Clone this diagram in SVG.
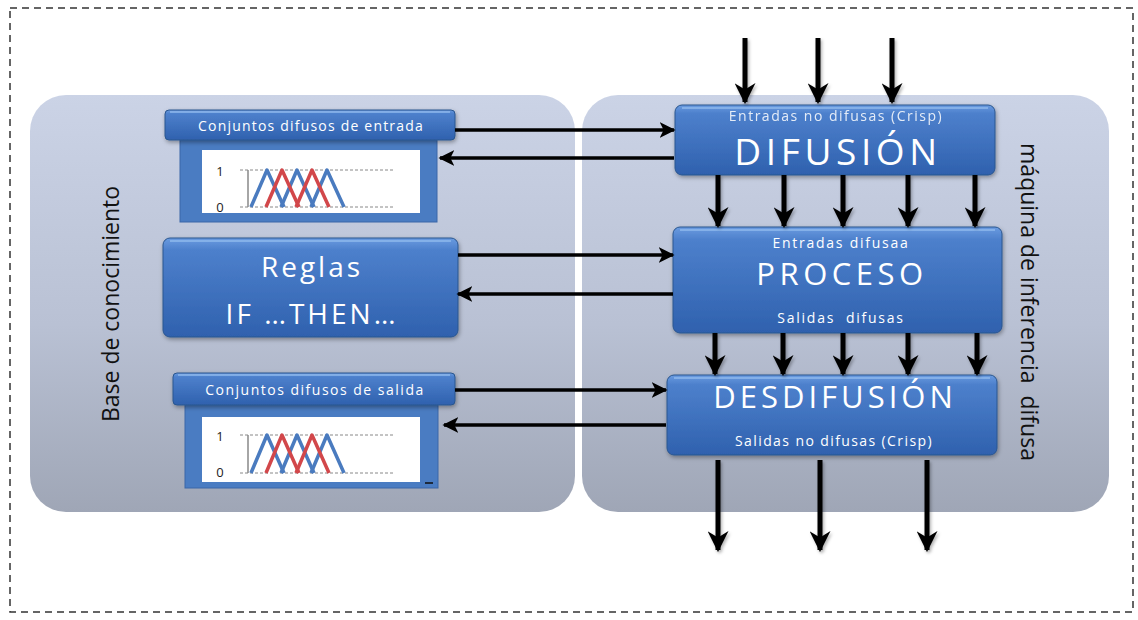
<svg xmlns="http://www.w3.org/2000/svg" width="1138" height="620" viewBox="0 0 1138 620">
  <defs>
    <linearGradient id="panelGrad" x1="0" y1="0" x2="0" y2="1">
      <stop offset="0" stop-color="#cbd3e6"/>
      <stop offset="0.55" stop-color="#b9c1d4"/>
      <stop offset="1" stop-color="#9fa6b6"/>
    </linearGradient>
    <linearGradient id="boxGrad" x1="0" y1="0" x2="0" y2="1">
      <stop offset="0" stop-color="#6a9be0"/>
      <stop offset="0.12" stop-color="#4d80cc"/>
      <stop offset="1" stop-color="#2f61ae"/>
    </linearGradient>
    <filter id="shadow" x="-10%" y="-10%" width="130%" height="140%">
      <feDropShadow dx="1" dy="2" stdDeviation="2" flood-color="#000" flood-opacity="0.35"/>
    </filter>
    <!-- line shadows need a user-space region: a vertical line has a zero-width bbox -->
    <filter id="lineShadow" filterUnits="userSpaceOnUse" x="0" y="0" width="1138" height="620">
      <feDropShadow dx="1.5" dy="2" stdDeviation="1.5" flood-color="#000" flood-opacity="0.3"/>
    </filter>
    <marker id="head" viewBox="0 0 10 10" refX="9" refY="5" markerWidth="16" markerHeight="16" markerUnits="userSpaceOnUse" orient="auto">
      <path d="M0,0 L10,5 L0,10 L2.5,5 Z" fill="#000"/>
    </marker>
    <marker id="headV" viewBox="0 0 10 10" refX="9" refY="5" markerWidth="21" markerHeight="21" markerUnits="userSpaceOnUse" orient="auto">
      <path d="M0,0 L10,5 L0,10 L3,5 Z" fill="#000"/>
    </marker>
    <style>
      .panel { fill: url(#panelGrad); }
      .box { fill: url(#boxGrad); stroke: #2a568f; stroke-width: 1; filter: url(#shadow); }
      .hl { fill: none; stroke: #9cc3f2; stroke-width: 1.5; opacity: 0.8; }
      .frame { fill: #4a7cc2; stroke: #3a67a8; stroke-width: 1; }
      .chart { fill: #ffffff; }
      .w { fill: #ffffff; font-family: "Open Sans", "Noto Sans", "DejaVu Sans", sans-serif; text-anchor: middle; }
      .side { fill: #111; font-family: "Open Sans", "Noto Sans", sans-serif; text-anchor: middle; }
      .num { fill: #222; font-family: "Open Sans", "Noto Sans", sans-serif; font-size: 13px; text-anchor: middle; }
      .grid { stroke: #888; stroke-width: 1; stroke-dasharray: 3 2; fill: none; }
      .axis { stroke: #888; stroke-width: 1.5; fill: none; }
      .mb { stroke: #4a7bbf; stroke-width: 3.5; fill: none; stroke-linejoin: round; }
      .mr { stroke: #d2474a; stroke-width: 3.5; fill: none; stroke-linejoin: round; }
      .h { stroke: #000; stroke-width: 3.5; fill: none; marker-end: url(#head); }
      .v { stroke: #000; stroke-width: 5; fill: none; marker-end: url(#headV); filter: url(#lineShadow); }
    </style>
  </defs>

  <rect width="1138" height="620" fill="#ffffff"/>
  <!-- dashed outer frame -->
  <rect x="10" y="8" width="1123" height="604" fill="none" stroke="#333" stroke-width="1.5" stroke-dasharray="7 5"/>

  <!-- knowledge base panel -->
  <g id="base-conocimiento">
    <rect class="panel" x="30" y="95" width="545" height="417" rx="36"/>
    <text class="side" font-size="23" transform="translate(119,304) rotate(-90)">Base de conocimiento</text>
  </g>

  <!-- inference engine panel -->
  <g id="maquina-inferencia">
    <rect class="panel" x="582" y="95" width="527" height="417" rx="36"/>
    <text class="side" font-size="23" transform="translate(1021,302) rotate(90)" xml:space="preserve">máquina de inferencia  difusa</text>
  </g>

  <!-- input fuzzy sets -->
  <g id="conjuntos-entrada">
    <rect class="frame" x="180" y="140" width="257" height="82"/>
    <rect class="chart" x="202" y="150" width="218" height="63"/>
    <text class="num" x="220" y="176">1</text>
    <text class="num" x="220" y="212">0</text>
    <line class="grid" x1="240" y1="170" x2="393" y2="170"/>
    <line class="grid" x1="240" y1="207" x2="393" y2="207"/>
    <line class="axis" x1="248" y1="170" x2="248" y2="207"/>
    <polyline class="mb" points="251,207 267,170 284,207"/>
    <polyline class="mb" points="281,207 297,170 314,207"/>
    <polyline class="mb" points="311,207 327,170 344,207"/>
    <polyline class="mr" points="266,207 282,170 299,207"/>
    <polyline class="mr" points="296,207 312,170 329,207"/>
    <rect class="box" x="165" y="110" width="290" height="30" rx="4"/>
    <line class="hl" x1="170" y1="112" x2="450" y2="112"/>
    <text class="w" x="311" y="131" font-size="14" letter-spacing="1.2">Conjuntos difusos de entrada</text>
  </g>

  <!-- rules -->
  <g id="reglas">
    <rect class="box" x="163" y="238" width="295" height="99" rx="7"/>
    <line class="hl" x1="170" y1="241" x2="451" y2="241"/>
    <text class="w" x="312" y="277" font-size="28" letter-spacing="3">Reglas</text>
    <text class="w" x="312" y="324" font-size="28" letter-spacing="3">IF …THEN…</text>
  </g>

  <!-- output fuzzy sets -->
  <g id="conjuntos-salida">
    <rect class="frame" x="185" y="405" width="253" height="83"/>
    <rect class="chart" x="202" y="417" width="218" height="65"/>
    <text class="num" x="220" y="441">1</text>
    <text class="num" x="220" y="477">0</text>
    <line class="grid" x1="240" y1="435" x2="393" y2="435"/>
    <line class="grid" x1="240" y1="473" x2="393" y2="473"/>
    <line class="axis" x1="248" y1="435" x2="248" y2="473"/>
    <polyline class="mb" points="251,473 267,435 284,473"/>
    <polyline class="mb" points="281,473 297,435 314,473"/>
    <polyline class="mb" points="311,473 327,435 344,473"/>
    <polyline class="mr" points="266,473 282,435 299,473"/>
    <polyline class="mr" points="296,473 312,435 329,473"/>
    <line x1="425" y1="483" x2="433" y2="483" stroke="#111" stroke-width="1.5"/>
    <rect class="box" x="173" y="373" width="282" height="32" rx="4"/>
    <line class="hl" x1="178" y1="375" x2="450" y2="375"/>
    <text class="w" x="315" y="395" font-size="14" letter-spacing="1.5">Conjuntos difusos de salida</text>
  </g>

  <!-- fuzzification -->
  <g id="difusion">
    <rect class="box" x="675" y="105" width="320" height="70" rx="7"/>
    <line class="hl" x1="682" y1="108" x2="988" y2="108"/>
    <text class="w" x="836" y="121" font-size="14" letter-spacing="1.5" opacity="0.85">Entradas no difusas (Crisp)</text>
    <text class="w" x="838" y="165" font-size="37" letter-spacing="4.6">DIFUSIÓN</text>
  </g>

  <!-- processing -->
  <g id="proceso">
    <rect class="box" x="673" y="227" width="329" height="106" rx="7"/>
    <line class="hl" x1="680" y1="230" x2="995" y2="230"/>
    <text class="w" x="841" y="248" font-size="14" letter-spacing="1.75">Entradas difusaa</text>
    <text class="w" x="842" y="285" font-size="31" letter-spacing="4.5">PROCESO</text>
    <text class="w" x="841" y="323" font-size="14" letter-spacing="1.75" xml:space="preserve">Salidas  difusas</text>
  </g>

  <!-- defuzzification -->
  <g id="desdifusion">
    <rect class="box" x="667" y="375" width="330" height="80" rx="7"/>
    <line class="hl" x1="674" y1="378" x2="990" y2="378"/>
    <text class="w" x="835" y="408" font-size="31" letter-spacing="4">DESDIFUSIÓN</text>
    <text class="w" x="834" y="446" font-size="14" letter-spacing="1.4">Salidas no difusas (Crisp)</text>
  </g>

  <!-- connectors -->
  <g id="connectors">
    <!-- knowledge base <-> engine -->
    <line class="h" x1="455" y1="130" x2="674" y2="130"/>
    <line class="h" x1="674" y1="158" x2="440" y2="158"/>
    <line class="h" x1="458" y1="255" x2="673" y2="255"/>
    <line class="h" x1="673" y1="294" x2="458" y2="294"/>
    <line class="h" x1="455" y1="390" x2="666" y2="390"/>
    <line class="h" x1="666" y1="425" x2="444" y2="425"/>
    <!-- crisp inputs -->
    <line class="v" x1="745" y1="38" x2="745" y2="102"/>
    <line class="v" x1="818" y1="38" x2="818" y2="102"/>
    <line class="v" x1="892" y1="38" x2="892" y2="102"/>
    <!-- fuzzified inputs -->
    <line class="v" x1="718" y1="175" x2="718" y2="226"/>
    <line class="v" x1="784" y1="175" x2="784" y2="226"/>
    <line class="v" x1="843" y1="175" x2="843" y2="226"/>
    <line class="v" x1="908" y1="175" x2="908" y2="226"/>
    <line class="v" x1="975" y1="175" x2="975" y2="226"/>
    <!-- fuzzy outputs -->
    <line class="v" x1="715" y1="333" x2="715" y2="374"/>
    <line class="v" x1="783" y1="333" x2="783" y2="374"/>
    <line class="v" x1="843" y1="333" x2="843" y2="374"/>
    <line class="v" x1="908" y1="333" x2="908" y2="374"/>
    <line class="v" x1="977" y1="333" x2="977" y2="374"/>
    <!-- crisp outputs -->
    <line class="v" x1="718" y1="460" x2="718" y2="550"/>
    <line class="v" x1="820" y1="460" x2="820" y2="550"/>
    <line class="v" x1="927" y1="460" x2="927" y2="550"/>
  </g>
</svg>
